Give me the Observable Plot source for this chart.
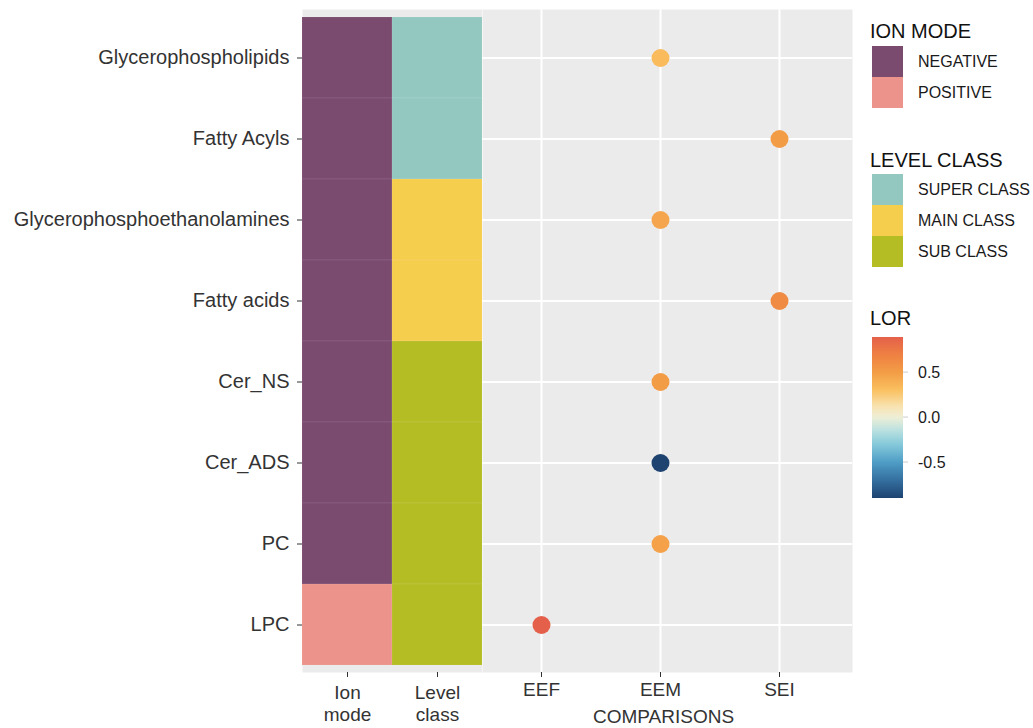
<!DOCTYPE html>
<html>
<head>
<meta charset="utf-8">
<script src="https://cdn.jsdelivr.net/npm/d3@7"></script>
<script src="https://cdn.jsdelivr.net/npm/@observablehq/plot@0.6"></script>
<style>
  html, body { margin: 0; padding: 0; background: #fff; }
  #wrap { position: relative; width: 1033px; height: 728px; font-family: "Liberation Sans", Arial, Helvetica, sans-serif; }
  #left, #right, #legend { position: absolute; top: 0; }
  #left { left: 0; }
  #right { left: 482px; }
  #legend { left: 860px; }
</style>
</head>
<body>
<div id="wrap"><div id="left"></div><div id="right"></div><div id="legend"></div></div>
<script>
// ---- data ----
const rows = ["Glycerophospholipids", "Fatty Acyls", "Glycerophosphoethanolamines", "Fatty acids", "Cer_NS", "Cer_ADS", "PC", "LPC"];
const ionMode = ["NEGATIVE", "NEGATIVE", "NEGATIVE", "NEGATIVE", "NEGATIVE", "NEGATIVE", "NEGATIVE", "POSITIVE"];
const levelClass = ["SUPER CLASS", "SUPER CLASS", "MAIN CLASS", "MAIN CLASS", "SUB CLASS", "SUB CLASS", "SUB CLASS", "SUB CLASS"];
const comparison = ["EEM", "SEI", "EEM", "SEI", "EEM", "EEM", "EEM", "EEF"];
const lorValues = [0.33, 0.5, 0.45, 0.62, 0.5, -0.9, 0.47, 0.89];
const comparisons = ["EEF", "EEM", "SEI"];
const heatCols = ["Ion mode", "Level class"];
const ionModes = ["NEGATIVE", "POSITIVE"];
const ionColors = ["#7A4A6F", "#EC948B"];
const levelClasses = ["SUPER CLASS", "MAIN CLASS", "SUB CLASS"];
const levelColors = ["#93C8C1", "#F6CE4E", "#B5BD25"];
const lorStops = [-0.9, -0.7, -0.5, -0.3, -0.12, 0, 0.12, 0.3, 0.5, 0.7, 0.89];
const lorColors = ["#1E4370", "#3470A0", "#4F9DC6", "#86CADB", "#C4E4E0", "#EEEED6", "#F8E2B0", "#FAC060", "#F39C46", "#EE8042", "#E5604B"];
const lorTicks = [0.5, 0.0, -0.5];

// ---- tables ----
const cells = rows.flatMap((r, i) => [
  {col: heatCols[0], row: r, key: ionMode[i]},
  {col: heatCols[1], row: r, key: levelClass[i]}
]);
const dots = rows.map((r, i) => ({row: r, comparison: comparison[i], lor: lorValues[i]}));

const font = "'Liberation Sans', Arial, Helvetica, sans-serif";
const H = 728, MT = 9, MB = 56;
const yOpts = {type: "band", domain: rows, padding: 0, insetTop: 8, insetBottom: 7, label: null};

const left = Plot.plot({
  width: 482, height: H,
  marginLeft: 302, marginRight: 0, marginTop: MT, marginBottom: MB,
  style: {fontFamily: font, fontSize: "20px", color: "#333", background: "transparent"},
  x: {type: "band", domain: heatCols, padding: 0, label: null},
  y: yOpts,
  color: {type: "ordinal", domain: [...ionModes, ...levelClasses], range: [...ionColors, ...levelColors]},
  marks: [
    Plot.frame({fill: "#EBEBEB"}),
    Plot.cell(cells, {x: "col", y: "row", fill: "key", inset: 0, stroke: "white", strokeOpacity: 0.08}),
    Plot.axisY({tickSize: 5, tickPadding: 8, fontSize: 20, stroke: "#333", fill: "#333"}),
    Plot.axisX({tickSize: 5, tickPadding: 5, fontSize: 19, lineHeight: 1.2, fill: "#333", stroke: "#333",
      tickFormat: d => d.replace(" ", "\n")})
  ]
});
document.getElementById("left").appendChild(left);

const colorOpts = {type: "linear", domain: lorStops, range: lorColors, interpolate: "rgb"};

const right = Plot.plot({
  width: 380, height: H,
  marginLeft: 0, marginRight: 10, marginTop: MT, marginBottom: MB,
  style: {fontFamily: font, fontSize: "19px", color: "#333", background: "transparent"},
  x: {type: "point", domain: comparisons, range: [58, 297], padding: 0, label: null},
  y: {...yOpts, axis: null},
  color: colorOpts,
  marks: [
    Plot.frame({fill: "#EBEBEB"}),
    Plot.gridX({stroke: "white", strokeWidth: 2, strokeOpacity: 1}),
    Plot.gridY({stroke: "white", strokeWidth: 2, strokeOpacity: 1}),
    Plot.dot(dots, {x: "comparison", y: "row", fill: "lor", r: 9}),
    Plot.axisX({tickSize: 5, tickPadding: 5, fontSize: 19, fill: "#333", stroke: "#333"}),
    Plot.text(["COMPARISONS"], {frameAnchor: "bottom", dy: 50, fontSize: 19, fill: "#333", dx: -4})
  ]
});
document.getElementById("right").appendChild(right);

// ---- legend ----
const colorScale = Plot.scale({color: colorOpts});
const lg = d3.select("#legend").append("svg")
  .attr("width", 173).attr("height", 520)
  .style("font-family", font);
const ox = 12; // key left inside legend svg (page x 872)
lg.append("text").attr("x", 10).attr("y", 38).attr("font-size", 20).attr("fill", "#111").text("ION MODE");
ionModes.forEach((m, i) => {
  lg.append("rect").attr("x", ox).attr("y", 46 + i * 31).attr("width", 31).attr("height", 31).attr("fill", ionColors[i]);
  lg.append("text").attr("x", 58).attr("y", 46 + i * 31 + 15.5).attr("dy", "0.35em").attr("font-size", 16).attr("fill", "#1a1a1a").text(m);
});
lg.append("text").attr("x", 10).attr("y", 167).attr("font-size", 20).attr("fill", "#111").text("LEVEL CLASS");
levelClasses.forEach((m, i) => {
  lg.append("rect").attr("x", ox).attr("y", 174 + i * 31).attr("width", 31).attr("height", 31).attr("fill", levelColors[i]);
  lg.append("text").attr("x", 58).attr("y", 174 + i * 31 + 15.5).attr("dy", "0.35em").attr("font-size", 16).attr("fill", "#1a1a1a").text(m);
});
lg.append("text").attr("x", 10).attr("y", 325).attr("font-size", 20).attr("fill", "#111").text("LOR");
const barTop = 337, barBot = 498;
const lo = lorStops[0], hi = lorStops[lorStops.length - 1];
const vy = v => barTop + (hi - v) / (hi - lo) * (barBot - barTop);
const grad = lg.append("defs").append("linearGradient").attr("id", "lorgrad")
  .attr("x1", 0).attr("y1", 1).attr("x2", 0).attr("y2", 0);
d3.range(0, 1.0001, 0.02).forEach(t => {
  grad.append("stop").attr("offset", t).attr("stop-color", colorScale.apply(lo + t * (hi - lo)));
});
lg.append("rect").attr("x", ox).attr("y", barTop).attr("width", 31).attr("height", barBot - barTop).attr("fill", "url(#lorgrad)");
lorTicks.forEach(v => {
  lg.append("line").attr("x1", ox + 31).attr("x2", ox + 36).attr("y1", vy(v)).attr("y2", vy(v)).attr("stroke", "#ccc").attr("stroke-width", 1);
  lg.append("text").attr("x", 58).attr("y", vy(v)).attr("dy", "0.35em").attr("font-size", 16).attr("fill", "#1a1a1a").text(v.toFixed(1));
});
</script>
</body>
</html>
